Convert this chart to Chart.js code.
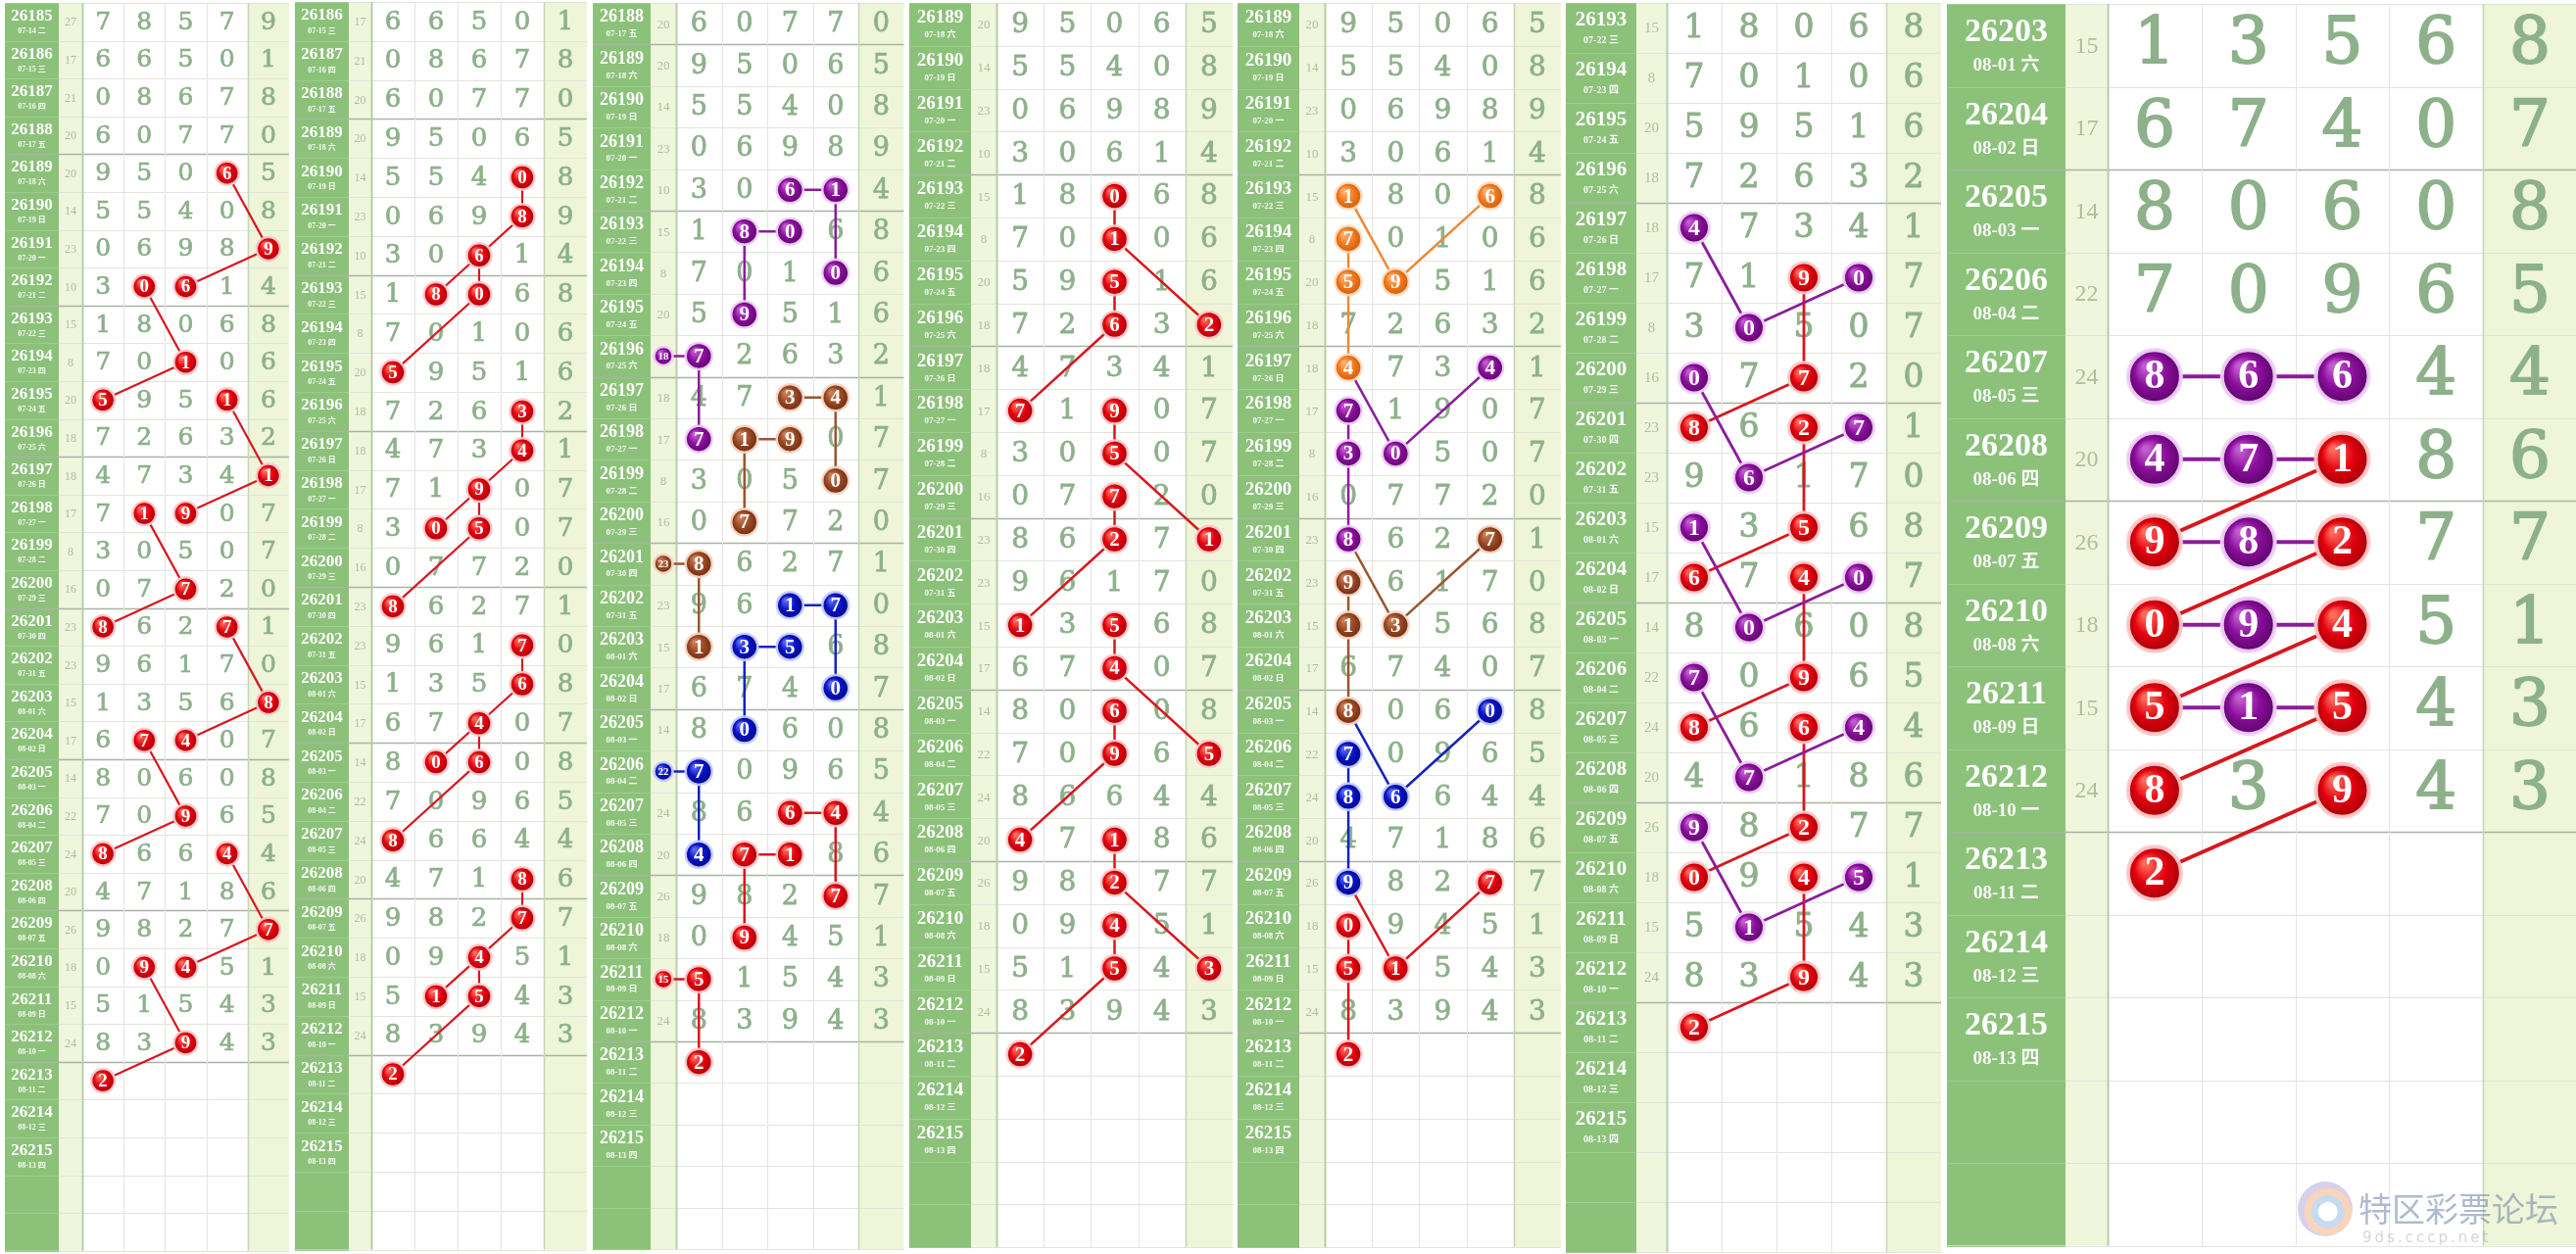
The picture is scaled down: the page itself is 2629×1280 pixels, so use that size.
<!DOCTYPE html>
<html><head><meta charset="utf-8">
<script src="https://cdn.jsdelivr.net/npm/chart.js@4.4.1/dist/chart.umd.min.js"></script>
<style>
html,body{margin:0;padding:0;background:#fff;}
#wrap{position:relative;width:2629px;height:1280px;overflow:hidden;background:#fff;}
#wrap canvas{position:absolute;top:0;}
#wm{position:absolute;left:2345px;top:1200px;width:284px;height:75px;z-index:10;white-space:nowrap;}
#wm .logo{position:absolute;left:0;top:6px;width:56px;height:56px;border-radius:50%;
  background:radial-gradient(circle at 55% 55%,rgba(255,255,255,0.9) 0 22%,rgba(150,190,230,0.55) 23% 38%,rgba(240,170,120,0.5) 39% 55%,rgba(170,150,210,0.45) 56% 72%,rgba(255,255,255,0) 73%);}
#wm .t{position:absolute;left:62px;top:8px;font:34px "Noto Sans CJK SC",sans-serif;color:rgba(110,130,165,0.55);white-space:nowrap;}
#wm .s{position:absolute;left:66px;top:54px;font:15px "DejaVu Sans",sans-serif;color:rgba(140,150,170,0.4);letter-spacing:3px;white-space:nowrap;}
</style></head><body><div id="wrap"><div id="wm"><div class="logo"></div><div class="t">特区彩票论坛</div><div class="s">9ds.cccp.net</div></div></div>
<script>
// ---------------- data ----------------
const draws = [26185,26186,26187,26188,26189,26190,26191,26192,26193,26194,26195,26196,26197,26198,26199,26200,26201,26202,26203,26204,26205,26206,26207,26208,26209,26210,26211,26212,26213,26214,26215];
const dates = ['07-14 二','07-15 三','07-16 四','07-17 五','07-18 六','07-19 日','07-20 一','07-21 二','07-22 三','07-23 四','07-24 五','07-25 六','07-26 日','07-27 一','07-28 二','07-29 三','07-30 四','07-31 五','08-01 六','08-02 日','08-03 一','08-04 二','08-05 三','08-06 四','08-07 五','08-08 六','08-09 日','08-10 一','08-11 二','08-12 三','08-13 四'];
const sums = [27,17,21,20,20,14,23,10,15,8,20,18,18,17,8,16,23,23,15,17,14,22,24,20,26,18,15,24];
const pos1 = [7,6,0,6,9,5,0,3,1,7,5,7,4,7,3,0,8,9,1,6,8,7,8,4,9,0,5,8];
const pos2 = [8,6,8,0,5,5,6,0,8,0,9,2,7,1,0,7,6,6,3,7,0,0,6,7,8,9,1,3];
const pos3 = [5,5,6,7,0,4,9,6,0,1,5,6,3,9,5,7,2,1,5,4,6,9,6,1,2,4,5,9];
const pos4 = [7,0,7,7,6,0,8,1,6,0,1,3,4,0,0,2,7,7,6,0,0,6,4,8,7,5,4,4];
const pos5 = [9,1,8,0,5,8,9,4,8,6,6,2,1,7,7,0,1,0,8,7,8,5,4,6,7,1,3,3];
const positions = [pos1,pos2,pos3,pos4,pos5];

// marks: [draw, column(0=sum col,1..5), digit, group]
const marks1 = [[26189,4,6,'red'],[26191,5,9,'red'],[26192,3,6,'red'],[26192,2,0,'red'],[26194,3,1,'red'],[26195,1,5,'red'],[26195,4,1,'red'],[26197,5,1,'red'],[26198,3,9,'red'],[26198,2,1,'red'],[26200,3,7,'red'],[26201,1,8,'red'],[26201,4,7,'red'],[26203,5,8,'red'],[26204,3,4,'red'],[26204,2,7,'red'],[26206,3,9,'red'],[26207,1,8,'red'],[26207,4,4,'red'],[26209,5,7,'red'],[26210,3,4,'red'],[26210,2,9,'red'],[26212,3,9,'red'],[26213,1,2,'red']];
const links1 = [[26189,4,26191,5,'red'],[26191,5,26192,3,'red'],[26192,2,26194,3,'red'],[26194,3,26195,1,'red'],[26195,4,26197,5,'red'],[26197,5,26198,3,'red'],[26198,2,26200,3,'red'],[26200,3,26201,1,'red'],[26201,4,26203,5,'red'],[26203,5,26204,3,'red'],[26204,2,26206,3,'red'],[26206,3,26207,1,'red'],[26207,4,26209,5,'red'],[26209,5,26210,3,'red'],[26210,2,26212,3,'red'],[26212,3,26213,1,'red']];

const marks2 = [[26190,4,0,'red'],[26191,4,8,'red'],[26192,3,6,'red'],[26193,2,8,'red'],[26193,3,0,'red'],[26195,1,5,'red'],[26196,4,3,'red'],[26197,4,4,'red'],[26198,3,9,'red'],[26199,2,0,'red'],[26199,3,5,'red'],[26201,1,8,'red'],[26202,4,7,'red'],[26203,4,6,'red'],[26204,3,4,'red'],[26205,2,0,'red'],[26205,3,6,'red'],[26207,1,8,'red'],[26208,4,8,'red'],[26209,4,7,'red'],[26210,3,4,'red'],[26211,2,1,'red'],[26211,3,5,'red'],[26213,1,2,'red']];
const links2 = [[26190,4,26191,4,'red'],[26191,4,26192,3,'red'],[26192,3,26193,2,'red'],[26192,3,26193,3,'red'],[26193,3,26195,1,'red'],[26196,4,26197,4,'red'],[26197,4,26198,3,'red'],[26198,3,26199,2,'red'],[26198,3,26199,3,'red'],[26199,3,26201,1,'red'],[26202,4,26203,4,'red'],[26203,4,26204,3,'red'],[26204,3,26205,2,'red'],[26204,3,26205,3,'red'],[26205,3,26207,1,'red'],[26208,4,26209,4,'red'],[26209,4,26210,3,'red'],[26210,3,26211,2,'red'],[26210,3,26211,3,'red'],[26211,3,26213,1,'red']];

const marks3 = [[26192,3,6,'purple'],[26192,4,1,'purple'],[26194,4,0,'purple'],[26193,2,8,'purple'],[26193,3,0,'purple'],[26195,2,9,'purple'],[26196,0,18,'purple'],[26196,1,7,'purple'],[26198,1,7,'purple'],
 [26197,3,3,'brown'],[26197,4,4,'brown'],[26199,4,0,'brown'],[26198,2,1,'brown'],[26198,3,9,'brown'],[26200,2,7,'brown'],[26201,0,23,'brown'],[26201,1,8,'brown'],[26203,1,1,'brown'],
 [26202,3,1,'blue'],[26202,4,7,'blue'],[26204,4,0,'blue'],[26203,2,3,'blue'],[26203,3,5,'blue'],[26205,2,0,'blue'],[26206,0,22,'blue'],[26206,1,7,'blue'],[26208,1,4,'blue'],
 [26207,3,6,'red'],[26207,4,4,'red'],[26209,4,7,'red'],[26208,2,7,'red'],[26208,3,1,'red'],[26210,2,9,'red'],[26211,0,15,'red'],[26211,1,5,'red'],[26213,1,2,'red']];
const links3 = [[26192,3,26192,4,'purple'],[26192,4,26194,4,'purple'],[26193,2,26193,3,'purple'],[26193,2,26195,2,'purple'],[26196,0,26196,1,'purple'],[26196,1,26198,1,'purple'],
 [26197,3,26197,4,'brown'],[26197,4,26199,4,'brown'],[26198,2,26198,3,'brown'],[26198,2,26200,2,'brown'],[26201,0,26201,1,'brown'],[26201,1,26203,1,'brown'],
 [26202,3,26202,4,'blue'],[26202,4,26204,4,'blue'],[26203,2,26203,3,'blue'],[26203,2,26205,2,'blue'],[26206,0,26206,1,'blue'],[26206,1,26208,1,'blue'],
 [26207,3,26207,4,'red'],[26207,4,26209,4,'red'],[26208,2,26208,3,'red'],[26208,2,26210,2,'red'],[26211,0,26211,1,'red'],[26211,1,26213,1,'red']];

const marks4 = [[26193,3,0,'red'],[26194,3,1,'red'],[26196,5,2,'red'],[26195,3,5,'red'],[26196,3,6,'red'],[26198,1,7,'red'],[26198,3,9,'red'],[26199,3,5,'red'],[26201,5,1,'red'],[26200,3,7,'red'],[26201,3,2,'red'],[26203,1,1,'red'],[26203,3,5,'red'],[26204,3,4,'red'],[26206,5,5,'red'],[26205,3,6,'red'],[26206,3,9,'red'],[26208,1,4,'red'],[26208,3,1,'red'],[26209,3,2,'red'],[26211,5,3,'red'],[26210,3,4,'red'],[26211,3,5,'red'],[26213,1,2,'red']];
const links4 = [[26193,3,26194,3,'red'],[26194,3,26196,5,'red'],[26195,3,26196,3,'red'],[26196,3,26198,1,'red'],[26198,3,26199,3,'red'],[26199,3,26201,5,'red'],[26200,3,26201,3,'red'],[26201,3,26203,1,'red'],[26203,3,26204,3,'red'],[26204,3,26206,5,'red'],[26205,3,26206,3,'red'],[26206,3,26208,1,'red'],[26208,3,26209,3,'red'],[26209,3,26211,5,'red'],[26210,3,26211,3,'red'],[26211,3,26213,1,'red']];

const marks5 = [[26193,1,1,'orange'],[26193,4,6,'orange'],[26195,2,9,'orange'],[26194,1,7,'orange'],[26195,1,5,'orange'],[26197,1,4,'orange'],
 [26197,4,4,'purple'],[26199,2,0,'purple'],[26198,1,7,'purple'],[26199,1,3,'purple'],[26201,1,8,'purple'],
 [26201,4,7,'brown'],[26203,2,3,'brown'],[26202,1,9,'brown'],[26203,1,1,'brown'],[26205,1,8,'brown'],
 [26205,4,0,'blue'],[26207,2,6,'blue'],[26206,1,7,'blue'],[26207,1,8,'blue'],[26209,1,9,'blue'],
 [26209,4,7,'red'],[26211,2,1,'red'],[26210,1,0,'red'],[26211,1,5,'red'],[26213,1,2,'red']];
const links5 = [[26193,1,26195,2,'orange'],[26195,2,26193,4,'orange'],[26194,1,26195,1,'orange'],[26195,1,26197,1,'orange'],
 [26197,1,26199,2,'purple'],[26199,2,26197,4,'purple'],[26198,1,26199,1,'purple'],[26199,1,26201,1,'purple'],
 [26201,1,26203,2,'brown'],[26203,2,26201,4,'brown'],[26202,1,26203,1,'brown'],[26203,1,26205,1,'brown'],
 [26205,1,26207,2,'blue'],[26207,2,26205,4,'blue'],[26206,1,26207,1,'blue'],[26207,1,26209,1,'blue'],
 [26209,1,26211,2,'red'],[26211,2,26209,4,'red'],[26210,1,26211,1,'red'],[26211,1,26213,1,'red']];

const marks6 = [[26197,1,4,'purple'],[26199,2,0,'purple'],[26198,4,0,'purple'],[26200,1,0,'purple'],[26202,2,6,'purple'],[26201,4,7,'purple'],[26203,1,1,'purple'],[26205,2,0,'purple'],[26204,4,0,'purple'],[26206,1,7,'purple'],[26208,2,7,'purple'],[26207,4,4,'purple'],[26209,1,9,'purple'],[26211,2,1,'purple'],[26210,4,5,'purple'],
 [26198,3,9,'red'],[26200,3,7,'red'],[26201,1,8,'red'],[26201,3,2,'red'],[26203,3,5,'red'],[26204,1,6,'red'],[26204,3,4,'red'],[26206,3,9,'red'],[26207,1,8,'red'],[26207,3,6,'red'],[26209,3,2,'red'],[26210,1,0,'red'],[26210,3,4,'red'],[26212,3,9,'red'],[26213,1,2,'red']];
const links6 = [[26197,1,26199,2,'purple'],[26199,2,26198,4,'purple'],[26200,1,26202,2,'purple'],[26202,2,26201,4,'purple'],[26203,1,26205,2,'purple'],[26205,2,26204,4,'purple'],[26206,1,26208,2,'purple'],[26208,2,26207,4,'purple'],[26209,1,26211,2,'purple'],[26211,2,26210,4,'purple'],
 [26198,3,26200,3,'red'],[26200,3,26201,1,'red'],[26201,3,26203,3,'red'],[26203,3,26204,1,'red'],[26204,3,26206,3,'red'],[26206,3,26207,1,'red'],[26207,3,26209,3,'red'],[26209,3,26210,1,'red'],[26210,3,26212,3,'red'],[26212,3,26213,1,'red']];

const marks7 = [[26207,1,8,'purple'],[26207,2,6,'purple'],[26207,3,6,'purple'],[26208,1,4,'purple'],[26208,2,7,'purple'],[26209,2,8,'purple'],[26210,2,9,'purple'],[26211,2,1,'purple'],
 [26208,3,1,'red'],[26209,1,9,'red'],[26209,3,2,'red'],[26210,1,0,'red'],[26210,3,4,'red'],[26211,1,5,'red'],[26211,3,5,'red'],[26212,1,8,'red'],[26212,3,9,'red'],[26213,1,2,'red']];
const links7 = [[26207,1,26207,2,'purple'],[26207,2,26207,3,'purple'],[26208,1,26208,2,'purple'],[26208,2,26208,3,'purple'],[26209,1,26209,2,'purple'],[26209,2,26209,3,'purple'],[26210,1,26210,2,'purple'],[26210,2,26210,3,'purple'],[26211,1,26211,2,'purple'],[26211,2,26211,3,'purple'],
 [26208,3,26209,1,'red'],[26209,3,26210,1,'red'],[26210,3,26211,1,'red'],[26211,3,26212,1,'red'],[26212,3,26213,1,'red']];

// ---------------- styles ----------------
const groups = {
  red:    {fill:'#e4000e', hi:'#ff6a5a', dark:'#a8000a', line:'#d8161e', halo:'rgba(255,200,200,0.95)'},
  purple: {fill:'#8a0e9b', hi:'#c25ad0', dark:'#5e056c', line:'#8c1c9c', halo:'rgba(240,205,248,0.95)'},
  brown:  {fill:'#9a4824', hi:'#c98058', dark:'#6e2e12', line:'#9a5630', halo:'rgba(246,214,196,0.95)'},
  blue:   {fill:'#0612c4', hi:'#5a66f0', dark:'#020a86', line:'#1424b8', halo:'rgba(200,206,255,0.95)'},
  orange: {fill:'#f37a1e', hi:'#ffb070', dark:'#cf5c08', line:'#ec8a3a', halo:'rgba(255,220,190,0.95)'}
};
const H = 1280;
const panels = [
  {start:26185,left:5,   dateW:55, sumW:24,digW:42.2,top:3,rh:38.6,rows:33,numF:17,dateF:8, sumF:12,digF:25,circR:12,  circF:19,smallR:9, smallF:11,lineW:2.2,halo:2.5,marks:marks1,links:links1},
  {start:26186,left:301, dateW:55, sumW:23,digW:44,  top:2,rh:39.8,rows:32,numF:17,dateF:8, sumF:12,digF:26,circR:12.5,circF:19,smallR:9, smallF:11,lineW:2.2,halo:2.5,marks:marks2,links:links2},
  {start:26188,left:605, dateW:59, sumW:26,digW:46.5,top:3,rh:42.4,rows:30,numF:18,dateF:9, sumF:13,digF:27,circR:13.5,circF:21,smallR:9.5,smallF:11,lineW:2.5,halo:2.5,marks:marks3,links:links3},
  {start:26189,left:928, dateW:63, sumW:26,digW:48.2,top:3,rh:43.8,rows:29,numF:19,dateF:9, sumF:13,digF:28,circR:13.5,circF:21,smallR:9, smallF:11,lineW:2.5,halo:2.5,marks:marks4,links:links4},
  {start:26189,left:1263,dateW:63, sumW:26,digW:48.2,top:3,rh:43.8,rows:29,numF:19,dateF:9, sumF:13,digF:28,circR:13.5,circF:21,smallR:9, smallF:11,lineW:2.5,halo:2.5,marks:marks5,links:links5},
  {start:26193,left:1598,dateW:72, sumW:31,digW:56,  top:3,rh:51,  rows:25,numF:21,dateF:10,sumF:15,digF:33,circR:15.5,circF:24,smallR:10,smallF:12,lineW:2.8,halo:3,  marks:marks6,links:links6},
  {start:26203,left:1987,dateW:121,sumW:43,digW:95.8,top:4,rh:84.5,rows:15,numF:34,dateF:19,sumF:24,digF:66,circR:27, circF:42,smallR:14,smallF:18,lineW:4,  halo:4,  marks:marks7,links:links7}
];
const serif = '"Liberation Serif","Noto Sans CJK SC",serif';
const digitFont = '"DejaVu Serif","Liberation Serif",serif';
const wrap = document.getElementById('wrap');

function buildPanel(p, idx) {
  const W = Math.round(p.dateW + p.sumW + 5 * p.digW);
  const cv = document.createElement('canvas');
  cv.width = W; cv.height = H;
  cv.style.left = p.left + 'px';
  cv.style.width = W + 'px'; cv.style.height = H + 'px';
  wrap.appendChild(cv);
  const u = p.digW;
  const xmin = 0.5 - (p.sumW + p.dateW) / u;
  const xmax = xmin + W / u;
  const xSumL = 0.5 - p.sumW / u;
  const xSum = 0.5 - p.sumW / (2 * u);
  const xDate = xmin + p.dateW / (2 * u);
  const ymin = -0.5 - p.top / p.rh;
  const ymax = ymin + H / p.rh;
  const i0 = draws.indexOf(p.start);
  const rowOf = d => draws.indexOf(d) - i0;
  const cx = c => (c === 0 ? xSum : c);
  const covered = new Set(p.marks.map(m => m[0] + ':' + m[1]));

  const datasets = [];
  p.links.forEach(l => {
    const g = groups[l[4]];
    datasets.push({data: [{x: cx(l[1]), y: rowOf(l[0])}, {x: cx(l[3]), y: rowOf(l[2])}],
      showLine: true, borderColor: g.line, borderWidth: p.lineW, pointRadius: 0,
      pointHoverRadius: 0, order: 2, clip: false, kind: 'link'});
  });
  Object.keys(groups).forEach(k => {
    const ms = p.marks.filter(m => m[3] === k);
    if (!ms.length) return;
    const g = groups[k];
    datasets.push({
      data: ms.map(m => ({x: cx(m[1]), y: rowOf(m[0]), v: m[2], small: m[1] === 0})),
      showLine: false, order: 1, clip: false, kind: 'mark',
      pointRadius: ms.map(m => (m[1] === 0 ? p.smallR : p.circR)),
      pointHoverRadius: ms.map(m => (m[1] === 0 ? p.smallR : p.circR)),
      pointBorderWidth: p.halo, pointBorderColor: g.halo,
      pointBackgroundColor: (ctx) => {
        const ch = ctx.chart, raw = ctx.raw;
        if (!raw || !ch.scales || !ch.scales.x || !ch.scales.y) return g.fill;
        const x = ch.scales.x.getPixelForValue(raw.x), y = ch.scales.y.getPixelForValue(raw.y);
        if (!isFinite(x) || !isFinite(y)) return g.fill;
        const r = raw.small ? p.smallR : p.circR;
        const gr = ch.ctx.createRadialGradient(x - r * 0.35, y - r * 0.4, r * 0.1, x, y, r);
        gr.addColorStop(0, g.hi); gr.addColorStop(0.55, g.fill); gr.addColorStop(1, g.dark);
        return gr;
      }
    });
  });

  const tablePlugin = {
    id: 'table' + idx,
    beforeDatasetsDraw(chart) {
      const c = chart.ctx, xs = chart.scales.x, ys = chart.scales.y;
      const X = v => xs.getPixelForValue(v), Y = v => ys.getPixelForValue(v);
      const yT = Y(-0.5), yB = Y(p.rows - 0.5);
      c.save();
      c.fillStyle = '#8cc17a'; c.fillRect(X(xmin), yT, X(xSumL) - X(xmin), yB - yT);
      c.fillStyle = '#eff6dc'; c.fillRect(X(xSumL), yT, X(0.5) - X(xSumL), yB - yT);
      c.fillStyle = '#ffffff'; c.fillRect(X(0.5), yT, X(4.5) - X(0.5), yB - yT);
      c.fillStyle = '#eef5d8'; c.fillRect(X(4.5), yT, X(5.5) - X(4.5), yB - yT);
      for (let r = 0; r <= p.rows; r++) {
        const y = Math.round(Y(r - 0.5)) + 0.5;
        const dPrev = draws[i0 + r - 1];
        const strong = dPrev !== undefined && (dPrev - 26188) % 4 === 0 && r > 0 && r < p.rows;
        c.lineWidth = strong ? 1.6 : 1;
        c.strokeStyle = strong ? '#a9b3a4' : '#9fcb8f';
        c.beginPath(); c.moveTo(X(xmin), y); c.lineTo(X(xSumL), y); c.stroke();
        c.strokeStyle = strong ? '#a9b3a4' : '#e1e6dd';
        c.beginPath(); c.moveTo(X(xSumL), y); c.lineTo(X(5.5), y); c.stroke();
      }
      const vl = [[0.5, '#bccbaa', 2], [1.5, '#e4e6e2', 1], [2.5, '#e4e6e2', 1], [3.5, '#e4e6e2', 1], [4.5, '#c8d5b6', 1.5]];
      vl.forEach(v => {
        c.strokeStyle = v[1]; c.lineWidth = v[2];
        const x = Math.round(X(v[0])) + 0.5;
        c.beginPath(); c.moveTo(x, yT); c.lineTo(x, yB); c.stroke();
      });
      c.textAlign = 'center'; c.textBaseline = 'middle'; c.lineJoin = 'round';
      for (let r = 0; r < p.rows; r++) {
        const k = i0 + r;
        if (k >= draws.length) break;
        const yc = Y(r);
        c.fillStyle = '#ffffff';
        c.font = 'bold ' + p.numF + 'px ' + serif;
        c.fillText(String(draws[k]), X(xDate), yc - p.rh * 0.15);
        c.font = 'bold ' + p.dateF + 'px ' + serif;
        c.fillStyle = 'rgba(255,255,255,0.92)';
        c.fillText(dates[k], X(xDate), yc + p.rh * 0.25);
        if (k < sums.length) {
          if (!covered.has(draws[k] + ':0')) {
            c.fillStyle = '#adbf9c';
            c.font = p.sumF + 'px ' + serif;
            c.fillText(String(sums[k]), X(xSum), yc + 1);
          }
          c.fillStyle = '#8db18a'; c.strokeStyle = '#8db18a';
          c.lineWidth = Math.max(0.6, p.digF / 36);
          c.font = p.digF + 'px ' + digitFont;
          for (let j = 0; j < 5; j++) {
            if (covered.has(draws[k] + ':' + (j + 1))) continue;
            c.fillText(String(positions[j][k]), X(j + 1), yc + 1);
            c.strokeText(String(positions[j][k]), X(j + 1), yc + 1);
          }
        }
      }
      c.restore();
    },
    afterDatasetsDraw(chart) {
      const c = chart.ctx, xs = chart.scales.x, ys = chart.scales.y;
      c.save();
      c.textAlign = 'center'; c.textBaseline = 'middle'; c.fillStyle = '#ffffff';
      chart.data.datasets.forEach(ds => {
        if (ds.kind !== 'mark') return;
        ds.data.forEach(pt => {
          c.font = 'bold ' + (pt.small ? p.smallF : p.circF) + 'px ' + serif;
          c.fillText(String(pt.v), xs.getPixelForValue(pt.x), ys.getPixelForValue(pt.y) + 1);
        });
      });
      c.restore();
    }
  };

  new Chart(cv, {
    type: 'scatter',
    data: {datasets},
    options: {
      responsive: false, animation: false, devicePixelRatio: 1, events: [],
      layout: {padding: 0, autoPadding: false},
      plugins: {legend: {display: false}, tooltip: {enabled: false}},
      scales: {
        x: {type: 'linear', display: false, min: xmin, max: xmax, bounds: 'data', grace: 0},
        y: {type: 'linear', display: false, reverse: true, min: ymin, max: ymax, bounds: 'data', grace: 0}
      }
    },
    plugins: [tablePlugin]
  });
}
panels.forEach(buildPanel);
</script>
</body></html>
